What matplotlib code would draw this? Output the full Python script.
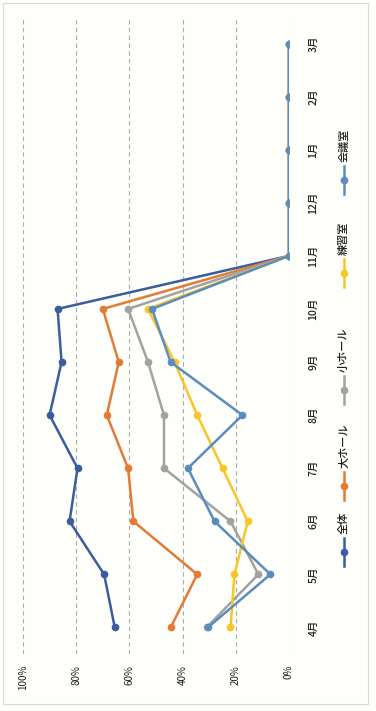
import matplotlib
matplotlib.use("Agg")
import matplotlib.pyplot as plt
from matplotlib.patches import Rectangle

plt.rcParams['font.family'] = ['Noto Sans CJK JP', 'DejaVu Sans']

months = ['4月', '5月', '6月', '7月', '8月', '9月', '10月', '11月', '12月', '1月', '2月', '3月']
series_names = ['全体', '大ホール', '小ホール', '練習室', '会議室']

zentai = [65.5, 69.5, 82.5, 79.5, 90, 85.5, 87, 0, 0, 0, 0, 0]
dai_hall = [44.5, 34.5, 58.5, 60.5, 68.5, 64, 70, 0, 0, 0, 0, 0]
sho_hall = [31, 11.5, 22, 47, 47, 53, 60.5, 0, 0, 0, 0, 0]
renshu = [22, 20.5, 15.5, 25, 34.5, 43, 53, 0, 0, 0, 0, 0]
kaigi = [30.5, 7, 28, 38, 17.5, 44.5, 51.5, 0, 0, 0, 0, 0]

colors = ['#3B5C9E', '#E37B36', '#A2A2A2', '#F9C52A', '#5A8DBE']
pct_ticks = [0, 20, 40, 60, 80, 100]

W, H = 376, 711
fig = plt.figure(figsize=(W / 100, H / 100), dpi=100)
fig.patch.set_facecolor('#fefefa')

# chart is laid out sideways: months run bottom->top, percentages right->left
ax = fig.add_axes([23 / W, 57 / H, 266 / W, 637 / H])
ax.set_facecolor('none')
pos = list(range(len(months)))
for vals, c in zip([zentai, dai_hall, sho_hall, renshu, kaigi], colors):
    ax.plot(vals, pos, color=c, lw=1.8, marker='o', ms=4.5, zorder=3)

ax.set_xlim(100, 0)
ax.set_ylim(-0.5, len(months) - 0.5)
ax.set_xticks(pct_ticks)
ax.set_xticklabels([f'{v}%' for v in pct_ticks], rotation=90, fontsize=7, color='#1e1e1e')
ax.tick_params(axis='x', length=0, pad=8)
ax.yaxis.tick_right()
ax.set_yticks(pos)
ax.set_yticklabels(months, rotation=90, fontsize=7.5, color='#1e1e1e', fontweight='medium')
ax.tick_params(axis='y', length=0, pad=14)
for lbl in ax.get_yticklabels():
    lbl.set_va('center')
ax.grid(axis='x', color='#ababab', lw=0.8, ls=(0, (4, 3)))
ax.grid(axis='y', visible=False)
for s in ax.spines.values():
    s.set_visible(False)

# hand-drawn legend, rotated like the rest of the chart
lax = fig.add_axes([0, 0, 1, 1])
lax.set_xlim(0, W)
lax.set_ylim(H, 0)
lax.axis('off')
lax.add_patch(Rectangle((3, 3), 365, 701, fill=False, ec='#d8d8d8', lw=0.8))
legend_y = [552, 486, 390, 273, 180]
for name, c, y in zip(series_names, colors, legend_y):
    lax.plot([344, 344], [y - 14, y + 14], color=c, lw=1.8)
    lax.plot([344], [y], color=c, marker='o', ms=4.5)
    lax.text(344, y - 18, name, rotation=90, ha='center', va='bottom',
             fontsize=8, color='#1e1e1e', fontweight='medium')

fig.savefig('out.png', dpi=100, facecolor=fig.get_facecolor())
